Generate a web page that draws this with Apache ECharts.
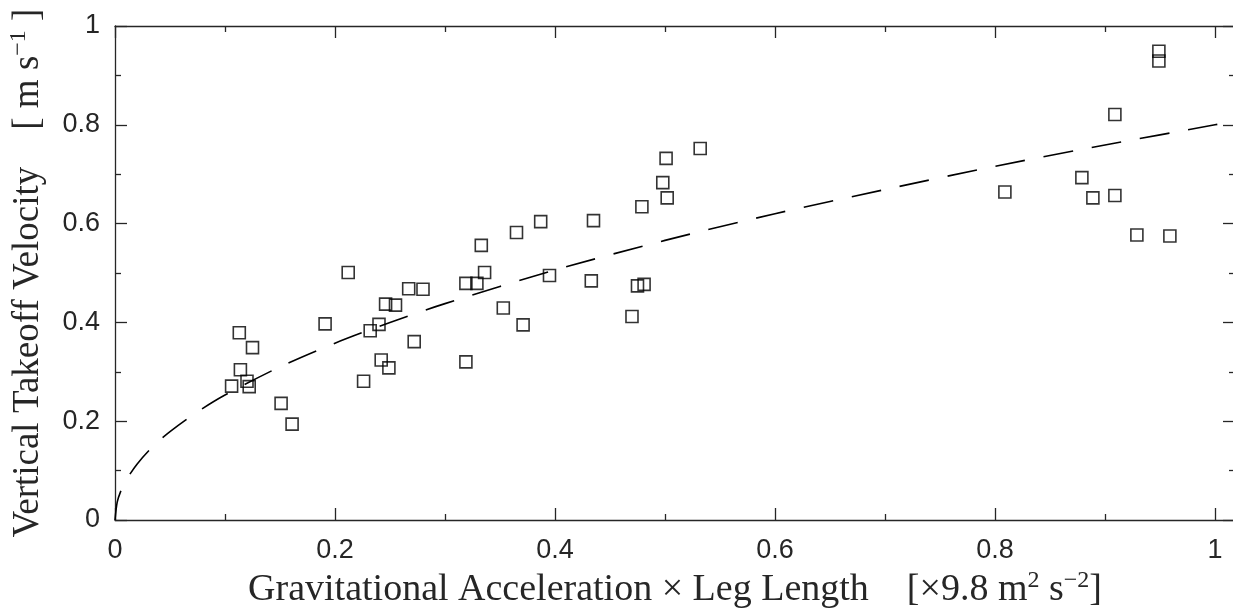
<!DOCTYPE html>
<html lang="en">
<head>
    <meta charset="utf-8" />
    <title>Vertical Takeoff Velocity</title>
    <style>
        html, body { margin: 0; padding: 0; background: #fff; }
        #main { width: 1233px; height: 608px; }
    </style>
</head>
<body>
<div id="main"></div>
<script src="https://cdn.jsdelivr.net/npm/echarts@6/dist/echarts.min.js"></script>
<script type="text/javascript">
    // measured points (g * leg length, takeoff velocity)
    var accelLeg = [
        0.113, 0.125, 0.114, 0.120, 0.106, 0.122, 0.151, 0.161, 0.191, 0.212,
        0.226, 0.232, 0.240, 0.242, 0.249, 0.246, 0.255, 0.267, 0.280, 0.272,
        0.319, 0.329, 0.336, 0.333, 0.353, 0.365, 0.371, 0.387, 0.395, 0.433,
        0.435, 0.470, 0.475, 0.481, 0.479, 0.498, 0.501, 0.502, 0.532, 0.319,
        0.809, 0.879, 0.889, 0.909, 0.909, 0.929, 0.949, 0.949, 0.959
    ];
    var takeoffVel = [
        0.379, 0.349, 0.304, 0.281, 0.271, 0.270, 0.236, 0.194, 0.397, 0.501,
        0.281, 0.383, 0.396, 0.324, 0.308, 0.437, 0.435, 0.468, 0.467, 0.361,
        0.479, 0.479, 0.501, 0.556, 0.429, 0.582, 0.395, 0.604, 0.495, 0.484,
        0.606, 0.412, 0.474, 0.477, 0.634, 0.683, 0.732, 0.652, 0.752, 0.320,
        0.664, 0.693, 0.652, 0.821, 0.657, 0.577, 0.949, 0.929, 0.575
    ];

    // dashed fit curve
    var fitX = [0, 0.002, 0.005, 0.01, 0.02, 0.035, 0.05, 0.075, 0.1, 0.15, 0.2, 0.25,
        0.3, 0.4, 0.5, 0.6, 0.7, 0.8, 0.9, 1.0, 1.02];
    var fitY = [0, 0.036, 0.057, 0.080, 0.113, 0.150, 0.179, 0.219, 0.253, 0.310, 0.358, 0.400,
        0.438, 0.506, 0.566, 0.620, 0.669, 0.716, 0.759, 0.800, 0.808];

    var xTicks = ['0', '0.2', '0.4', '0.6', '0.8', '1'];
    var yTicks = ['0', '0.2', '0.4', '0.6', '0.8', '1'];

    var points = [];
    for (var i = 0; i < accelLeg.length; i++) {
        points.push([accelLeg[i], takeoffVel[i]]);
    }
    var fit = [];
    for (var j = 0; j < fitX.length; j++) {
        fit.push([fitX[j], fitY[j]]);
    }

    var axisColor = '#262626';
    var tickFont = 'Liberation Sans';
    var titleFont = 'Liberation Serif';

    function frameAxis(pos, isX) {
        return {
            type: 'value',
            position: pos,
            min: 0,
            max: isX ? 1.0182 : 1,
            interval: 0.2,
            axisLine: {show: true, onZero: false, lineStyle: {color: axisColor, width: 1.3}},
            axisTick: {show: true, inside: true, length: 12, lineStyle: {color: axisColor, width: 1.3}},
            minorTick: {show: true, splitNumber: 2, length: 6, lineStyle: {color: axisColor, width: 1.3}},
            axisLabel: {show: false},
            splitLine: {show: false}
        };
    }

    var xMain = frameAxis('bottom', true);
    xMain.axisLabel = {
        show: true, margin: 17, showMaxLabel: false,
        color: axisColor, fontFamily: tickFont, fontSize: 27,
        formatter: function (v) {
            var k = Math.round(v / 0.2);
            return Math.abs(v - k * 0.2) < 1e-6 ? xTicks[k] : '';
        }
    };
    xMain.name = 'Gravitational Acceleration × Leg Length    [×9.8 m{sup|2} s{sup|−2}]';
    xMain.nameLocation = 'middle';
    xMain.nameGap = 47;
    xMain.nameTextStyle = {
        fontFamily: titleFont, fontSize: 38, color: axisColor,
        rich: {sup: {fontFamily: titleFont, fontSize: 24, color: axisColor, padding: [0, 0, 18, 0]}}
    };

    var yMain = frameAxis('left', false);
    yMain.axisLabel = {
        show: true, margin: 15,
        color: axisColor, fontFamily: tickFont, fontSize: 27,
        formatter: function (v) {
            return yTicks[Math.round(v / 0.2)];
        }
    };
    yMain.name = 'Vertical Takeoff Velocity    [ m s{sup|−1} ]';
    yMain.nameLocation = 'middle';
    yMain.nameRotate = 90;
    yMain.nameGap = 66;
    yMain.nameTextStyle = {
        fontFamily: titleFont, fontSize: 37, color: axisColor,
        rich: {sup: {fontFamily: titleFont, fontSize: 24, color: axisColor, padding: [0, 0, 18, 0]}}
    };

    var myChart = echarts.init(document.getElementById('main'));
    var option = {
        animation: false,
        backgroundColor: '#fff',
        grid: {left: 115, right: -2, top: 26, bottom: 88, outerBoundsMode: 'none'},
        xAxis: [xMain, frameAxis('top', true)],
        yAxis: [yMain, frameAxis('right', false)],
        series: [
            {
                type: 'line',
                data: fit,
                smooth: 0.3,
                showSymbol: false,
                silent: true,
                lineStyle: {color: '#000', width: 1.6, type: [30, 19]}
            },
            {
                type: 'scatter',
                data: points,
                symbol: 'rect',
                symbolSize: 12,
                itemStyle: {color: 'rgba(0,0,0,0)', borderColor: '#000', borderWidth: 1.6}
            }
        ]
    };
    myChart.setOption(option);
</script>
</body>
</html>
